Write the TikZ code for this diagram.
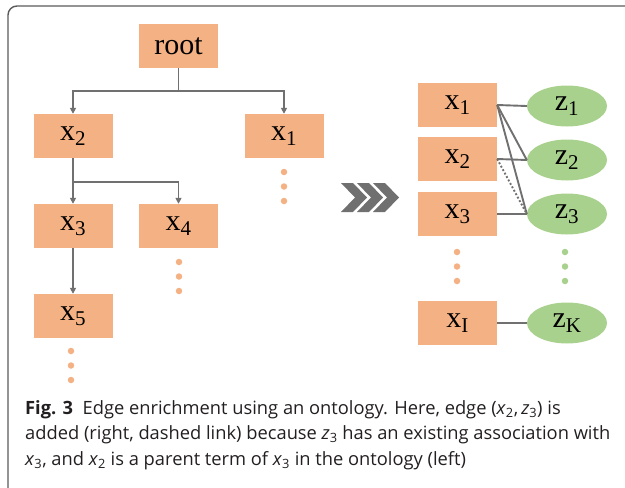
\documentclass[tikz,border=0pt]{standalone}
\usepackage{fontspec}
\usepackage{tikz}
\usetikzlibrary{arrows.meta, shapes.geometric, positioning}
\newfontfamily\boxfont{Liberation Serif}
\newfontfamily\capfont{Open Sans}
\definecolor{myorange}{RGB}{244,177,131}
\definecolor{mygreen}{RGB}{169,209,142}
\definecolor{mygray}{RGB}{112,112,112}
\definecolor{myframe}{RGB}{90,90,90}
\definecolor{mytext}{RGB}{35,31,32}
\tikzset{
  term/.style={rectangle, fill=myorange, minimum width=79pt,
    minimum height=44pt, inner sep=0pt, font=\boxfont\fontsize{30}{32}\selectfont},
  topic/.style={ellipse, fill=mygreen, minimum width=80pt,
    minimum height=41pt, inner sep=0pt, font=\boxfont\fontsize{30}{32}\selectfont},
  arrow/.style={-{Triangle[length=6pt,width=6pt]}, line width=1.9pt, color=mygray},
  link/.style={line width=1.9pt, color=mygray},
  odot/.style={circle, fill=myorange, inner sep=0pt, minimum size=6.5pt},
  gdot/.style={circle, fill=mygreen, inner sep=0pt, minimum size=6.5pt}
}

\begin{document}
\begin{tikzpicture}[x=1pt, y=-1pt]
  \useasboundingbox (0,0) rectangle (625,488);
  \draw[myframe, line width=1.4pt, rounded corners=9pt] (627,6) -- (8,6) -- (8,492);
  % Ontology (left)
  \node[term] (root) at (178.5,46) {root};
  \node[term] (x2) at (73,136) {x\textsubscript{2}};
  \node[term] (x1) at (284,136) {x\textsubscript{1}};
  \node[term] (x3) at (73,226) {x\textsubscript{3}};
  \node[term] (x4) at (178.5,226) {x\textsubscript{4}};
  \node[term] (x5) at (73,316) {x\textsubscript{5}};
  \draw[arrow] (root.south) -- ++(0,23) -| (x2.north);
  \draw[arrow] (root.south) -- ++(0,23) -| (x1.north);
  \draw[arrow] (x2.south) -- (x3.north);
  \draw[arrow] (x2.south) -- ++(0,24) -| (x4.north);
  \draw[arrow] (x3.south) -- (x5.north);
  \foreach \y in {172,186.5,201} \node[odot] at (284,\y) {};
  \foreach \y in {262,276.5,291} \node[odot] at (179,\y) {};
  \foreach \y in {351,365.5,380} \node[odot] at (71,\y) {};
  % Chevrons
  \foreach \i in {0,1,2}
    \fill[mygray] ({341+16*\i},183) -- ++(12,0) -- ++(14,14.5) -- ++(-14,14.5)
      -- ++(-12,0) -- ++(14,-14.5) -- cycle;
  % Associations (right)
  \node[term] (rx1) at (457.5,105) {x\textsubscript{1}};
  \node[term] (rx2) at (457.5,159) {x\textsubscript{2}};
  \node[term] (rx3) at (457.5,214) {x\textsubscript{3}};
  \node[term] (rxI) at (457.5,323) {x\textsubscript{I}};
  \node[topic] (z1) at (567,106) {z\textsubscript{1}};
  \node[topic] (z2) at (567,160) {z\textsubscript{2}};
  \node[topic] (z3) at (567,214) {z\textsubscript{3}};
  \node[topic] (zK) at (567,323) {z\textsubscript{K}};
  \draw[link] (rx1.east) -- (z1.west);
  \draw[link] (rx1.east) -- (z2.west);
  \draw[link] (rx1.east) -- (z3.west);
  \draw[link] (rx2.east) -- (z2.west);
  \draw[link] (rx3.east) -- (z3.west);
  \draw[link, dotted] (rx2.east) -- (z3.west);
  \draw[link] (rxI.east) -- (zK.west);
  \foreach \y in {252,266.5,281} {
    \node[odot] at (457,\y) {};
    \node[gdot] at (565,\y) {};
  }
  % Caption
  \node[anchor=north west, inner sep=0pt, align=left, text=mytext,
    font=\capfont\fontsize{18.3}{25.5}\selectfont] (caption) at (25,400)
    {\textbf{Fig. 3}\ \ Edge enrichment using an ontology. Here, edge (\textit{x}\textsubscript{2},\,\textit{z}\textsubscript{3}) is\\
     added (right, dashed link) because \textit{z}\textsubscript{3} has an existing association with\\
     \textit{x}\textsubscript{3}, and \textit{x}\textsubscript{2} is a parent term of \textit{x}\textsubscript{3} in the ontology (left)};
\end{tikzpicture}
\end{document}
